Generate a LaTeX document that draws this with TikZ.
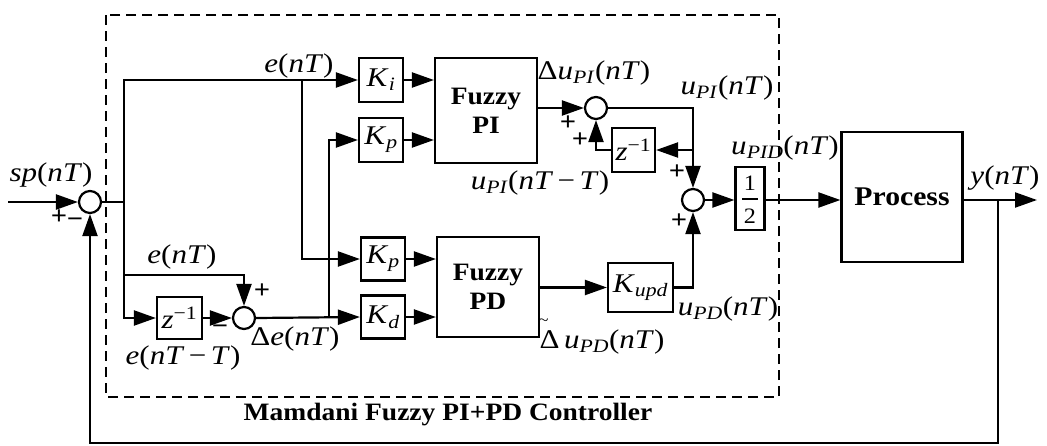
\documentclass[tikz,border=0pt]{standalone}
\usepackage{fontspec}
\setmainfont[FakeStretch=1.1]{Liberation Serif}
\newfontfamily\labfont[FakeStretch=1.15]{Liberation Serif}
\usetikzlibrary{arrows.meta}
\newcommand\iv[1]{\textit{#1}}
\newcommand\sbs[1]{\textsubscript{\textit{#1}}}
\newcommand\tDelta{\rlap{\hspace{-1pt}\raisebox{23pt}{\fontsize{16}{16}\selectfont\textasciitilde}}Δ}
\tikzset{
  wire/.style={line width=2.2pt},
  arr/.style={line width=2.2pt,-{Triangle[length=22pt,width=15pt]}},
  blk/.style={draw,line width=2.2pt,inner sep=0pt,font=\labfont\fontsize{27}{30}\selectfont},
  fz/.style={draw,line width=2.2pt,inner sep=0pt,align=center,font=\bfseries\fontsize{25}{29}\selectfont},
  sumc/.style={draw,circle,line width=2.2pt,minimum size=22pt,inner sep=0pt},
  lab/.style={inner sep=0pt,font=\labfont\fontsize{27}{30}\selectfont},
  pm/.style={inner sep=0pt,font=\bfseries\fontsize{26}{26}\selectfont},
}
\begin{document}
\begin{tikzpicture}[x=1pt,y=-1pt]
\useasboundingbox (0,0) rectangle (1047,445);
% dashed controller frame
\draw[line width=2.2pt,dash pattern=on 10pt off 6pt] (106,15) rectangle (779,397);
% summing junctions
\node[sumc] (s1) at (90,202) {};
\node[sumc] (s2) at (244,318) {};
\node[sumc] (s3) at (596,108) {};
\node[sumc] (s4) at (693,200) {};
% blocks
\node[blk,minimum width=44pt,minimum height=44pt] (Ki) at (381,80) {\iv{K}\sbs{i}};
\node[blk,minimum width=44pt,minimum height=44pt] (Kp1) at (381,140) {\iv{K}\sbs{p}};
\node[blk,minimum width=44pt,minimum height=43pt] (Kp2) at (383,259) {\iv{K}\sbs{p}};
\node[blk,minimum width=44pt,minimum height=43pt] (Kd) at (383,317) {\iv{K}\sbs{d}};
\node[fz,minimum width=102pt,minimum height=105pt] (FPI) at (486,110.5) {Fuzzy\\PI};
\node[fz,minimum width=102pt,minimum height=100pt] (FPD) at (488,287) {Fuzzy\\PD};
\node[blk,minimum width=43pt,minimum height=44pt] (zPI) at (633.5,150) {\iv{z}\textsuperscript{−1}};
\node[blk,minimum width=45pt,minimum height=42pt] (zE) at (179.5,318) {\iv{z}\textsuperscript{−1}};
\node[blk,minimum width=65pt,minimum height=49pt] (Kupd) at (640.5,287.5) {\iv{K}\sbs{upd}};
\node[draw,line width=2.2pt,minimum width=29pt,minimum height=63pt,inner sep=0pt] (half) at (750,198.5) {};
\node[inner sep=0pt,font=\fontsize{22}{22}\selectfont] (one) at (750,183) {1};
\node[inner sep=0pt,font=\fontsize{22}{22}\selectfont] (two) at (750,216) {2};
\draw[line width=1.4pt] (742,199) -- (758,199);
\node[fz,minimum width=121pt,minimum height=130pt,font=\bfseries\fontsize{27}{30}\selectfont] (proc) at (902,197) {Process};
% coordinates
\coordinate (in) at (8,202);
\coordinate (b1) at (124,202);
\coordinate (t2) at (244,275);
\coordinate (eb) at (302,81);
\coordinate (deb) at (329,318);
\coordinate (c4) at (693,150);
\coordinate (yb) at (998,200);
\coordinate (out) at (1037,200);
\coordinate (fb) at (998,443);
% connectors
\draw[arr] (in) -- (s1.west);
\draw[arr] (yb) -- (fb) -| (s1.south);
\draw[wire] (s1.east) -- (b1);
\draw[arr] (b1) |- (Ki.west);
\draw[arr] (b1) |- (zE.west);
\draw[arr] (b1) |- (t2) -- (s2.north);
\draw[arr] (eb) |- (Kp2.west);
\draw[arr] (deb) |- (Kp1.west);
\draw[arr] (zE.east) -- (s2.west);
\draw[arr] (s2.east) -- (Kd.west);
\draw[arr] (Ki.east) -- (Ki.east -| FPI.west);
\draw[arr] (Kp1.east) -- (Kp1.east -| FPI.west);
\draw[arr] (Kp2.east) -- (Kp2.east -| FPD.west);
\draw[arr] (Kd.east) -- (Kd.east -| FPD.west);
\draw[arr] (FPI.east |- s3) -- (s3.west);
\draw[arr] (s3.east) -| (s4.north);
\draw[arr] (c4) -- (zPI.east);
\draw[arr] (zPI.west) -| (s3.south);
\draw[arr] (FPD.east |- Kupd) -- (Kupd.west);
\draw[arr] (Kupd.east) -| (s4.south);
\draw[arr] (s4.east) -- (half.west |- s4);
\draw[arr] (half.east |- s4) -- (proc.west |- s4);
\draw[arr] (proc.east |- s4) -- (out);
% labels
\node[lab] (lsp) at (51,175) {\iv{sp}(\iv{nT})};
\node[pm] (p1) at (59,217) {+};
\node[pm] (m1) at (75,223) {−};
\node[lab] (le1) at (299,66) {\iv{e}(\iv{nT})};
\node[lab] (le2) at (182,257) {\iv{e}(\iv{nT})};
\node[pm] (p2) at (262,291) {+};
\node[pm] (m2) at (220,330) {−};
\node[lab] (lde) at (295,339) {Δ\iv{e}(\iv{nT})};
\node[lab] (leT) at (183,358) {\iv{e}(\iv{nT}\,−\,\iv{T})};
\node[lab] (ldupi) at (594,73) {Δ\iv{u}\sbs{PI}(\iv{nT})};
\node[pm] (p3) at (568,123) {+};
\node[pm] (p4) at (580,140) {+};
\node[lab] (lupiT) at (540,183) {\iv{u}\sbs{PI}(\iv{nT}\,−\,\iv{T})};
\node[lab] (lupi) at (727,88) {\iv{u}\sbs{PI}(\iv{nT})};
\node[pm] (p5) at (677,172) {+};
\node[pm] (p6) at (679,221) {+};
\node[lab] (lupid) at (785,148) {\iv{u}\sbs{PID}(\iv{nT})};
\node[lab] (ly) at (1005,178) {\iv{y}(\iv{nT})};
\node[lab] (ldupd) at (602,337) {\tDelta\,\iv{u}\sbs{PD}(\iv{nT})};
\node[lab] (lupd) at (728,309) {\iv{u}\sbs{PD}(\iv{nT})};
\node[inner sep=0pt,font=\bfseries\fontsize{25}{29}\selectfont] (ttl) at (448,415) {Mamdani Fuzzy PI+PD Controller};
\end{tikzpicture}
\end{document}
